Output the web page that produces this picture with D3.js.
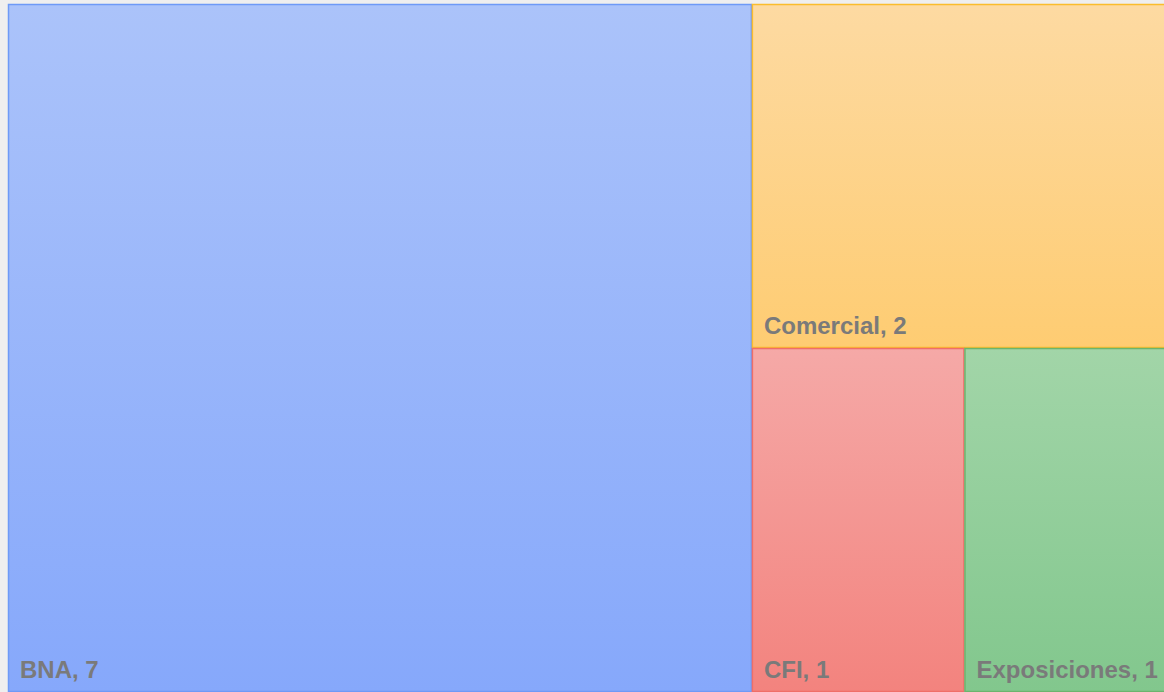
<!DOCTYPE html>
<html>
<head>
<meta charset="utf-8">
<script src="https://cdn.jsdelivr.net/npm/d3@7"></script>
<style>
  body { margin: 0; background: #efefef; overflow: hidden; }
</style>
</head>
<body>
<div id="container"></div>
<script>
let w = 1164;
let h = 692;

// treemap data
let names = ['BNA', 'Comercial', 'CFI', 'Exposiciones'];
let values = [7, 2, 1, 1];

let topColors = ['#abc3fa', '#fddaa2', '#f5a9a7', '#a2d5a8'];
let bottomColors = ['#86a8fb', '#fecc72', '#f3837e', '#82c78d'];
let strokes = ['#6e9af7', '#fbbd2c', '#ef6e68', '#6bb46d'];

let viz = d3.select('#container').append('svg')
    .attr('width', w)
    .attr('height', h);

viz.append('rect')
    .attr('width', w)
    .attr('height', h)
    .attr('fill', '#efefef');

let defs = viz.append('defs');
names.forEach((n, i) => {
    let g = defs.append('linearGradient')
        .attr('id', 'grad' + i)
        .attr('x1', 0).attr('y1', 0)
        .attr('x2', 0).attr('y2', 1);
    g.append('stop').attr('offset', '0%').attr('stop-color', topColors[i]);
    g.append('stop').attr('offset', '100%').attr('stop-color', bottomColors[i]);
});

let root = d3.hierarchy({
    children: names.map((n, i) => ({ name: n, value: values[i], idx: i }))
}).sum(d => d.value || 0);

// chart runs a bit past the right edge of the window
d3.treemap()
    .tile(d3.treemapBinary)
    .size([1169, 688])
    (root);

let plot = viz.append('g')
    .attr('transform', 'translate(8,4)');

let cells = plot.selectAll('g.cell')
    .data(root.leaves())
    .enter().append('g')
    .attr('class', 'cell');

cells.append('rect')
    .attr('x', d => d.x0 + 0.5)
    .attr('y', d => d.y0 + 0.5)
    .attr('width', d => d.x1 - d.x0 - 1)
    .attr('height', d => d.y1 - d.y0 - 1)
    .attr('fill', d => 'url(#grad' + d.data.idx + ')')
    .attr('stroke', d => strokes[d.data.idx])
    .attr('stroke-width', 1.5);

cells.append('text')
    .text(d => d.data.name + ', ' + d.data.value)
    .attr('x', d => d.x0 + 12)
    .attr('y', d => d.y1 - 14)
    .attr('fill', '#7a7a7a')
    .attr('font-family', 'Liberation Sans, Arial, sans-serif')
    .attr('font-weight', 'bold')
    .attr('font-size', '24px');
</script>
</body>
</html>
